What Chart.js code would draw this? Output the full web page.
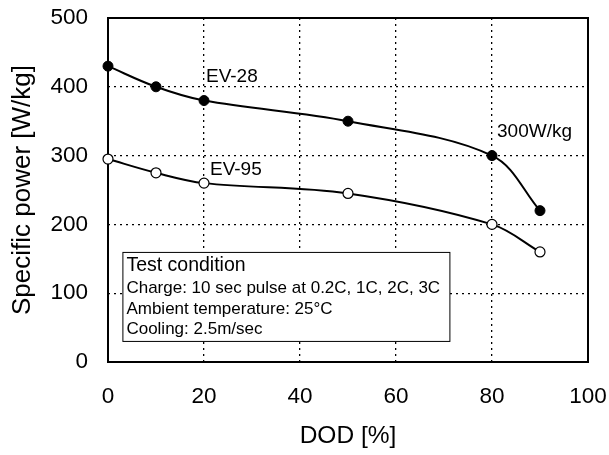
<!DOCTYPE html>
<html>
<head>
<meta charset="utf-8">
<script src="https://cdn.jsdelivr.net/npm/chart.js@4.4.1/dist/chart.umd.min.js"></script>
<style>
  html, body { margin: 0; padding: 0; background: #fff; }
  #chart { display: block; }
</style>
</head>
<body>
<canvas id="chart" width="609" height="455"></canvas>
<script>
// Specific power vs DOD for two cell types (EV-28 filled, EV-95 open).

const dod = [0, 10, 20, 50, 80, 90];
const ev28 = [430, 400, 380, 350, 300, 220];
const ev95 = [295, 275, 260, 245, 200, 160];

const xTicks = [0, 20, 40, 60, 80, 100];
const yTicks = [0, 100, 200, 300, 400, 500];

const conditionLines = [
  'Test condition',
  'Charge: 10 sec pulse at 0.2C, 1C, 2C, 3C',
  'Ambient temperature: 25°C',
  'Cooling: 2.5m/sec'
];

const FONT = '"Liberation Sans", Arial, sans-serif';

const toPoints = ys => dod.map((x, i) => ({ x, y: ys[i] }));

// Solid frame round the plot area, drawn on top of the dotted grid.
const frame = {
  id: 'frame',
  beforeDatasetsDraw(chart) {
    const { ctx, chartArea: a } = chart;
    ctx.save();
    ctx.strokeStyle = '#000';
    ctx.lineWidth = 2;
    ctx.strokeRect(a.left, a.top, a.right - a.left, a.bottom - a.top);
    ctx.restore();
  }
};

// Series labels and the test-condition box.
const notes = {
  id: 'notes',
  afterDatasetsDraw(chart) {
    const { ctx, scales: { x, y } } = chart;
    ctx.save();
    ctx.fillStyle = '#000';
    ctx.textBaseline = 'middle';
    ctx.textAlign = 'left';
    ctx.font = '19px ' + FONT;
    ctx.fillText('EV-28', x.getPixelForValue(20) + 2, y.getPixelForValue(415));
    ctx.fillText('EV-95', x.getPixelForValue(20) + 6, y.getPixelForValue(280));
    ctx.fillText('300W/kg', x.getPixelForValue(80) + 5, y.getPixelForValue(334));

    // condition box
    const bx = x.getPixelForValue(3);
    const by = y.getPixelForValue(160);
    const bw = 327, bh = 89;
    ctx.fillStyle = '#fff';
    ctx.fillRect(bx, by, bw, bh);
    ctx.strokeStyle = '#000';
    ctx.lineWidth = 1;
    ctx.strokeRect(bx + 0.5, by + 0.5, bw, bh);

    ctx.fillStyle = '#000';
    const rows = [14, 36, 57, 77];
    conditionLines.forEach((t, i) => {
      ctx.font = (i === 0 ? '19.5px ' : '17px ') + FONT;
      ctx.fillText(t, bx + 4, by + rows[i]);
    });
    ctx.restore();
  }
};

new Chart(document.getElementById('chart'), {
  type: 'line',
  data: {
    datasets: [
      {
        label: 'EV-28',
        data: toPoints(ev28),
        borderColor: '#000',
        backgroundColor: '#000',
        borderWidth: 2,
        tension: 0.35,
        clip: false,
        pointRadius: 5,
        pointBorderWidth: 1,
        pointBackgroundColor: '#000',
        pointBorderColor: '#000'
      },
      {
        label: 'EV-95',
        data: toPoints(ev95),
        borderColor: '#000',
        backgroundColor: '#fff',
        borderWidth: 2,
        tension: 0.35,
        clip: false,
        pointRadius: 5,
        pointBorderWidth: 1.2,
        pointBackgroundColor: '#fff',
        pointBorderColor: '#000'
      }
    ]
  },
  options: {
    responsive: false,
    animation: false,
    layout: { padding: { top: 18, right: 21, left: 3, bottom: 0 } },
    plugins: {
      legend: { display: false },
      tooltip: { enabled: false }
    },
    scales: {
      x: {
        type: 'linear',
        min: 0,
        max: 100,
        afterBuildTicks: s => { s.ticks = xTicks.map(v => ({ value: v })); },
        afterFit: s => { s.height = 93; s.paddingLeft = 0; s.paddingRight = 0; },
        ticks: { color: '#000', font: { family: FONT, size: 22.5 }, padding: 21, maxRotation: 0 },
        grid: { color: '#000', lineWidth: 1.3, drawTicks: false },
        border: { display: false, dash: [2, 4] },
        title: {
          display: true,
          text: 'DOD [%]',
          color: '#000',
          font: { family: FONT, size: 24.5 },
          padding: { top: 6 }
        }
      },
      y: {
        min: 0,
        max: 500,
        afterBuildTicks: s => { s.ticks = yTicks.map(v => ({ value: v })); },
        afterFit: s => { s.width = 105; s.paddingTop = 0; s.paddingBottom = 0; },
        ticks: { color: '#000', font: { family: FONT, size: 22.5 }, padding: 20 },
        grid: { color: '#000', lineWidth: 1.3, drawTicks: false },
        border: { display: false, dash: [2, 4] },
        title: {
          display: true,
          text: 'Specific power [W/kg]',
          color: '#000',
          font: { family: FONT, size: 26 },
          padding: { bottom: 0 }
        }
      }
    }
  },
  plugins: [frame, notes]
});
</script>
</body>
</html>
